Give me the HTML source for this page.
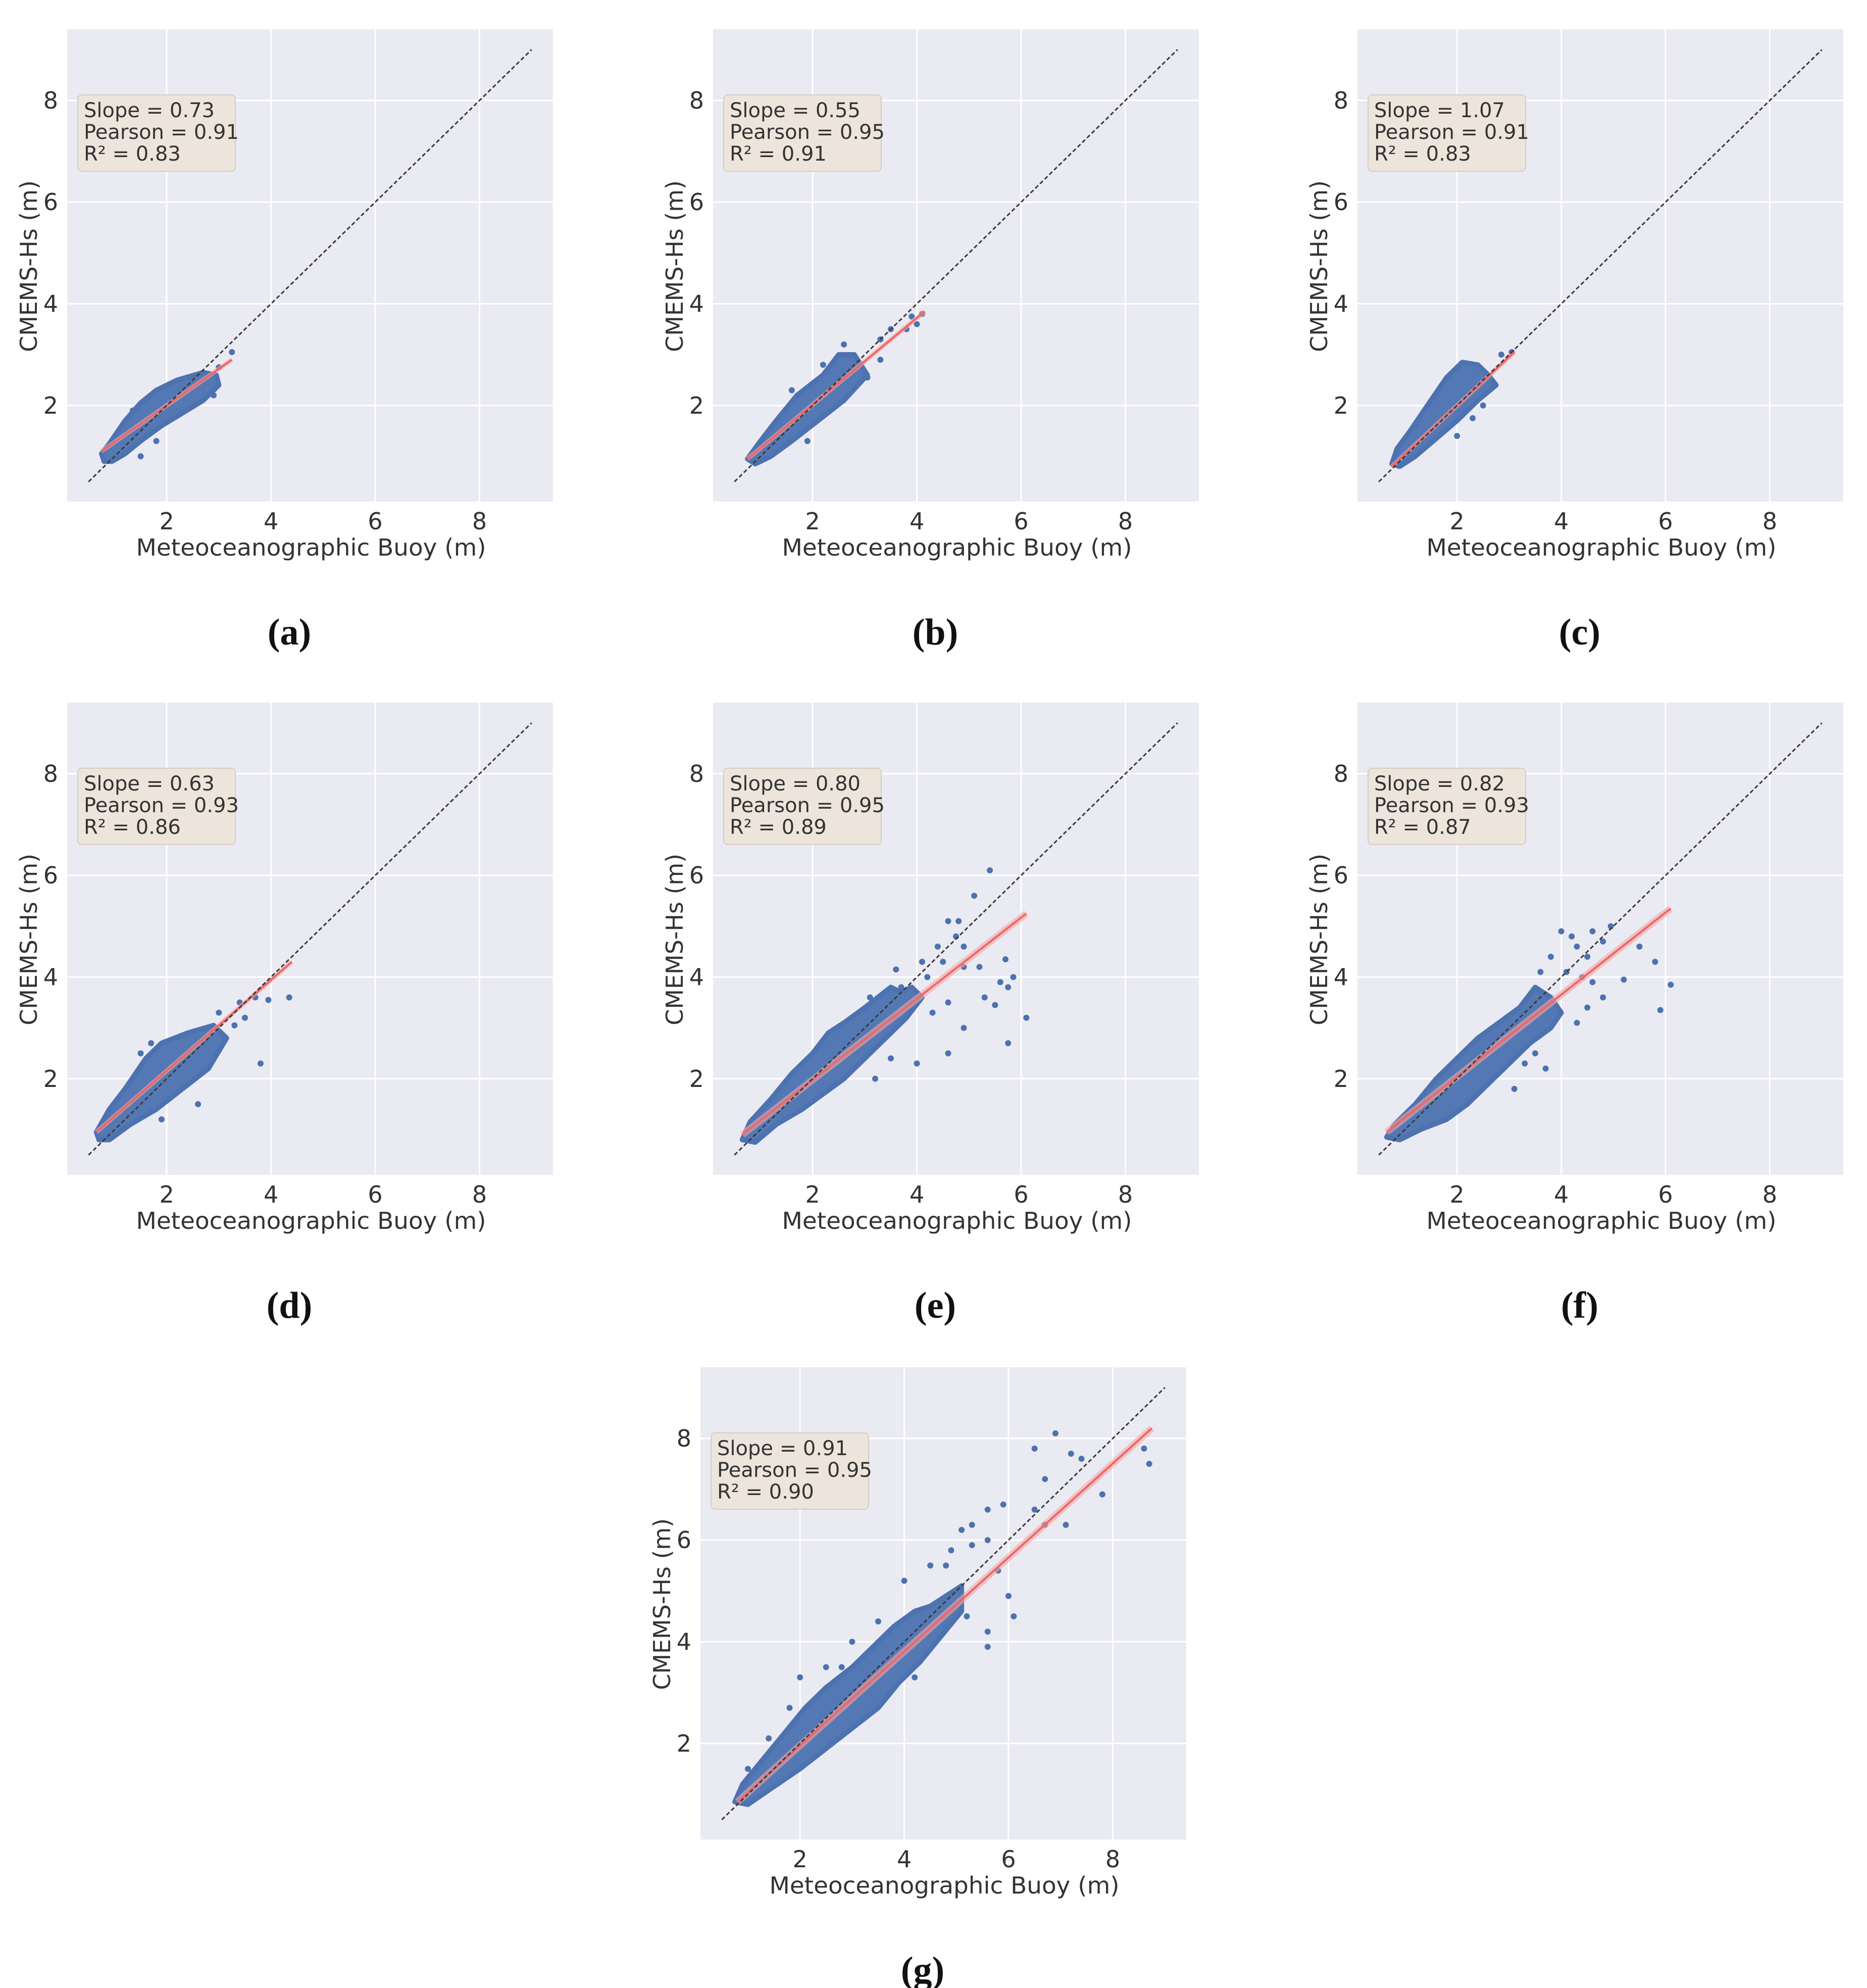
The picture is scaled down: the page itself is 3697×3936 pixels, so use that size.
<!DOCTYPE html>
<html><head><meta charset="utf-8">
<style>
html,body{margin:0;padding:0;background:#fff;}
svg{display:block;}
text{font-family:"DejaVu Sans","Liberation Sans",sans-serif;fill:#333;}
.cap{font-family:"Liberation Serif",serif;font-weight:bold;fill:#111;}
</style></head>
<body>
<svg id="fig" xmlns="http://www.w3.org/2000/svg" width="3697" height="3936" viewBox="0 0 3697 3936"></svg>
<script>
// ---- data ----
const panelLabels = ['(a)','(b)','(c)','(d)','(e)','(f)','(g)'];
const slopes   = ['0.73','0.55','1.07','0.63','0.80','0.82','0.91'];
const pearsons = ['0.91','0.95','0.91','0.93','0.95','0.93','0.95'];
const r2s      = ['0.83','0.91','0.83','0.86','0.89','0.87','0.90'];
const ticks = [2,4,6,8];
const tickLabels = ['2','4','6','8'];
const regX0 = [0.75,0.75,0.75,0.65,0.65,0.65,0.8];
const regY0 = [1.10,0.95,0.80,0.95,0.90,0.95,0.85];
const regX1 = [3.25,4.15,3.10,4.40,6.10,6.10,8.75];
const regY1 = [2.90,3.85,3.05,4.30,5.25,5.35,8.20];
const hullA = [[0.75,1.05],[0.9,1.25],[1.2,1.7],[1.5,2.05],[1.8,2.3],[2.2,2.5],[2.7,2.65],[2.95,2.6],[3.0,2.4],[2.7,2.1],[2.3,1.85],[1.9,1.6],[1.5,1.3],[1.2,1.05],[0.95,0.9],[0.8,0.9]];
const outA = [[3.25,3.05],[3.0,2.75],[2.9,2.2],[1.5,1.0],[1.8,1.3],[1.35,1.9]];
const hullB = [[0.75,0.95],[1.0,1.3],[1.3,1.7],[1.7,2.2],[2.2,2.6],[2.5,3.0],[2.8,3.0],[3.05,2.6],[2.6,2.1],[2.1,1.7],[1.6,1.3],[1.2,1.0],[0.9,0.85]];
const outB = [[3.5,3.5],[3.3,3.3],[3.8,3.5],[4.1,3.8],[3.9,3.75],[4.0,3.6],[2.2,2.8],[1.6,2.3],[2.6,3.2],[3.3,2.9],[3.05,2.55],[1.9,1.3]];
const hullC = [[0.75,0.85],[0.85,1.15],[1.1,1.5],[1.5,2.1],[1.8,2.55],[2.1,2.85],[2.4,2.8],[2.6,2.6],[2.75,2.4],[2.4,2.1],[2.0,1.7],[1.6,1.35],[1.2,1.0],[0.9,0.8]];
const outC = [[2.85,3.0],[3.05,3.05],[2.5,2.0],[2.3,1.75],[1.2,1.6],[2.0,1.4]];
const hullD = [[0.65,0.95],[0.9,1.4],[1.2,1.8],[1.6,2.4],[1.9,2.7],[2.4,2.9],[2.9,3.05],[3.15,2.8],[2.8,2.2],[2.3,1.8],[1.8,1.4],[1.3,1.1],[0.9,0.8],[0.7,0.8]];
const outD = [[3.4,3.5],[3.0,3.3],[3.7,3.6],[3.95,3.55],[4.35,3.6],[3.5,3.2],[3.3,3.05],[3.8,2.3],[2.6,1.5],[1.9,1.2],[1.5,2.5],[1.7,2.7]];
const hullE = [[0.65,0.8],[0.8,1.15],[1.2,1.6],[1.6,2.1],[2.0,2.5],[2.3,2.9],[2.6,3.1],[3.0,3.4],[3.5,3.8],[3.7,3.7],[3.9,3.8],[4.1,3.6],[3.8,3.2],[3.4,2.8],[3.0,2.4],[2.6,2.0],[2.2,1.7],[1.8,1.4],[1.3,1.1],[0.9,0.75]];
const outE = [[5.4,6.1],[5.1,5.6],[4.6,5.1],[4.8,5.1],[4.9,4.6],[4.4,4.6],[4.1,4.3],[4.5,4.3],[4.9,4.2],[5.2,4.2],[5.7,4.35],[5.6,3.9],[5.85,4.0],[5.75,3.8],[5.3,3.6],[5.5,3.45],[6.1,3.2],[5.75,2.7],[4.6,2.5],[4.0,2.3],[3.5,2.4],[3.7,3.8],[3.6,4.15],[4.3,3.3],[4.6,3.5],[4.9,3.0],[3.2,2.0],[4.2,4.0],[4.75,4.8],[3.1,3.6]];
const hullF = [[0.65,0.85],[0.8,1.1],[1.2,1.5],[1.6,2.0],[2.0,2.4],[2.4,2.8],[2.8,3.1],[3.2,3.4],[3.5,3.8],[3.8,3.6],[4.0,3.3],[3.8,3.0],[3.4,2.7],[3.0,2.3],[2.6,1.9],[2.2,1.5],[1.8,1.2],[1.3,1.0],[0.9,0.8]];
const outF = [[4.0,4.9],[4.2,4.8],[4.6,4.9],[4.95,5.0],[4.3,4.6],[4.5,4.4],[4.1,4.1],[3.8,4.4],[3.6,4.1],[4.4,4.0],[4.8,4.7],[5.5,4.6],[5.8,4.3],[6.1,3.85],[5.9,3.35],[5.2,3.95],[4.8,3.6],[4.5,3.4],[4.3,3.1],[3.5,2.5],[3.3,2.3],[3.7,2.2],[3.1,1.8],[4.6,3.9]];
const hullG = [[0.75,0.85],[0.9,1.2],[1.3,1.7],[1.7,2.2],[2.1,2.7],[2.5,3.1],[3.0,3.5],[3.4,3.9],[3.8,4.3],[4.2,4.6],[4.5,4.7],[4.8,4.9],[5.1,5.1],[5.1,4.6],[4.7,4.1],[4.3,3.6],[3.9,3.2],[3.5,2.7],[3.0,2.3],[2.5,1.9],[2.0,1.5],[1.5,1.15],[1.0,0.8]];
const outG = [[6.9,8.1],[6.5,7.8],[7.2,7.7],[7.4,7.6],[6.7,7.2],[8.6,7.8],[8.7,7.5],[7.8,6.9],[7.1,6.3],[6.5,6.6],[6.7,6.3],[5.9,6.7],[5.6,6.6],[5.3,6.3],[5.1,6.2],[5.6,6.0],[4.9,5.8],[4.5,5.5],[4.8,5.5],[4.0,5.2],[5.3,5.9],[5.8,5.4],[6.0,4.9],[6.1,4.5],[5.6,4.2],[5.6,3.9],[5.2,4.5],[4.8,4.3],[3.5,4.4],[3.0,4.0],[4.2,3.3],[3.7,3.0],[2.8,3.5],[2.5,3.5],[1.0,1.5],[1.4,2.1],[1.8,2.7],[2.0,3.3]];
const hulls = [hullA,hullB,hullC,hullD,hullE,hullF,hullG];
const outliers = [outA,outB,outC,outD,outE,outF,outG];
</script>
<script>
const NS='http://www.w3.org/2000/svg';
const svg=document.getElementById('fig');
const origins=[[133,58],[1412,58],[2688,58],[133,1391],[1412,1391],[2688,1391],[1387,2707]];
const W=962,H=935,X0=0.09,X1=9.41,Y0=0.11,Y1=9.40;
function mk(tag,attrs,parent){const e=document.createElementNS(NS,tag);for(const k in attrs)e.setAttribute(k,attrs[k]);(parent||svg).appendChild(e);return e;}
for(let p=0;p<7;p++){
  const [L,T]=origins[p];
  const sx=v=>L+(v-X0)/(X1-X0)*W;
  const sy=v=>T+H-(v-Y0)/(Y1-Y0)*H;
  const g=mk('g',{});
  
  
  const bg=mk('rect',{x:L,y:T,width:W,height:H,fill:'#eaeaf2'},g);
  
  
  ticks.forEach((t,i)=>{
    const gx=mk('line',{x1:sx(t),x2:sx(t),y1:T,y2:T+H,stroke:'#fff','stroke-width':3},g);
    
    
    const gy=mk('line',{x1:L,x2:L+W,y1:sy(t),y2:sy(t),stroke:'#fff','stroke-width':3},g);
    
    
    const xt=mk('text',{x:sx(t),y:T+990,'text-anchor':'middle','font-size':46},g);
    xt.textContent=tickLabels[i];
    
    
    const yt=mk('text',{x:L-18,y:sy(t)+16,'text-anchor':'end','font-size':46},g);
    yt.textContent=tickLabels[i];
    
    
  });
  const hp=hulls[p].map(d=>sx(d[0]).toFixed(1)+','+sy(d[1]).toFixed(1)).join(' ');
  const cloud=mk('polygon',{points:hp,fill:'#4c72b0',stroke:'#4c72b0','stroke-width':10,'stroke-linejoin':'round','fill-opacity':0.95},g);
  
  
  outliers[p].forEach(d=>{
    const c=mk('circle',{cx:sx(d[0]),cy:sy(d[1]),r:6,fill:'#4c72b0'},g);
    
    
  });
  const band=mk('line',{x1:sx(regX0[p]),y1:sy(regY0[p]),x2:sx(regX1[p]),y2:sy(regY1[p]),stroke:'#f4a6a6','stroke-width':p>=4?14:9,'stroke-opacity':0.6},g);
  
  
  const reg=mk('line',{x1:sx(regX0[p]),y1:sy(regY0[p]),x2:sx(regX1[p]),y2:sy(regY1[p]),stroke:'#ee6666','stroke-width':4},g);
  
  
  const diag=mk('line',{x1:sx(0.5),y1:sy(0.5),x2:sx(9.0),y2:sy(9.0),stroke:'#3a3a3a','stroke-width':3,'stroke-dasharray':'8 5'},g);
  
  
  const box=mk('rect',{x:L+21,y:T+130,width:312,height:151,rx:8,fill:'#ede5dc',stroke:'#d6cdc2','stroke-width':2},g);
  
  
  const lines=['Slope = '+slopes[p],'Pearson = '+pearsons[p],'R² = '+r2s[p]];
  lines.forEach((s,i)=>{
    const t=mk('text',{x:L+33,y:T+174+i*43,'font-size':40,fill:'#3a3a3a'},g);
    t.textContent=s;
    
    
  });
  const xl=mk('text',{x:L+W/2+2,y:T+1042,'text-anchor':'middle','font-size':46,textLength:693,lengthAdjust:'spacingAndGlyphs'},g);
  xl.textContent='Meteoceanographic Buoy (m)';
  
  
  const yl=mk('text',{x:0,y:0,'text-anchor':'middle','font-size':46,textLength:340,lengthAdjust:'spacingAndGlyphs',transform:'translate('+(L-60)+','+(T+469)+') rotate(-90)'},g);
  yl.textContent='CMEMS-Hs (m)';
  
  
  const cap=mk('text',{x:L+440,y:T+1218,'text-anchor':'middle','font-size':74,'class':'cap'},g);
  cap.textContent=panelLabels[p];
  
  
}
</script>
</body></html>
